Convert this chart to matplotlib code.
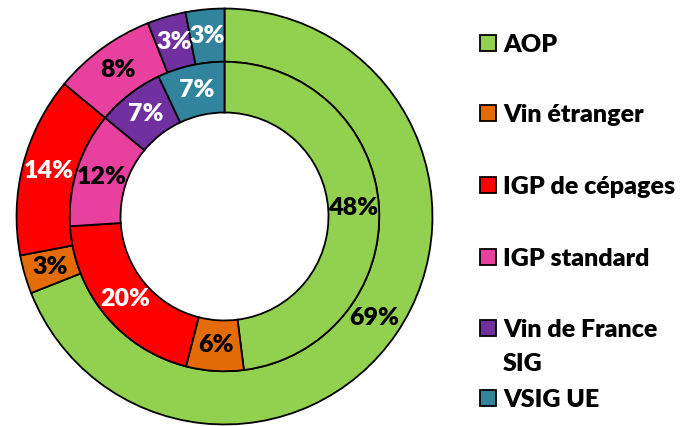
import matplotlib
matplotlib.use('Agg')
import matplotlib.pyplot as plt
from matplotlib.patches import Rectangle

# Catégories de vin (ordre horaire depuis midi)
categories = ['AOP', 'Vin étranger', 'IGP de cépages', 'IGP standard',
              'Vin de France\nSIG', 'VSIG UE']
outer_values = [69, 3, 14, 8, 3, 3]   # anneau extérieur
inner_values = [48, 6, 20, 12, 7, 7]  # anneau intérieur
colors = ['#92D050', '#E36C09', '#FF0000', '#E8409F', '#7030A0', '#31849B']
outer_label_colors = ['black', 'black', 'white', 'black', 'white', 'white']
inner_label_colors = ['black', 'black', 'white', 'black', 'white', 'white']

plt.rcParams['font.family'] = ['Lato', 'DejaVu Sans']
WEIGHT = 'heavy'

W, H = 695, 426
fig = plt.figure(figsize=(W / 100, H / 100), dpi=100)
R = 209
cx, cy = 224.5, 216.5
ax = fig.add_axes([(cx - R) / W, (H - cy - R) / H, 2 * R / W, 2 * R / H])

wedge_style = dict(edgecolor='black', linewidth=1.3)
_, _, outer_txt = ax.pie(outer_values, radius=1.0, colors=colors, startangle=90,
                         counterclock=False, autopct='%.0f%%', pctdistance=0.872,
                         wedgeprops=dict(width=0.256, **wedge_style),
                         textprops=dict(fontsize=18, fontweight=WEIGHT))
_, _, inner_txt = ax.pie(inner_values, radius=0.744, colors=colors, startangle=90,
                         counterclock=False, autopct='%.0f%%', pctdistance=0.835,
                         wedgeprops=dict(width=0.244, **wedge_style),
                         textprops=dict(fontsize=18, fontweight=WEIGHT))
for t, c in zip(outer_txt, outer_label_colors):
    t.set_color(c)
for t, c in zip(inner_txt, inner_label_colors):
    t.set_color(c)
ax.set_xlim(-1.005, 1.005)
ax.set_ylim(-1.005, 1.005)
ax.set_aspect('equal')

# Légende
slot_y = [43, 113, 185, 257, 328, 398]
for name, col, y in zip(categories, colors, slot_y):
    fig.patches.append(Rectangle((480 / W, (H - y - 8) / H), 16 / W, 16 / H,
                                 transform=fig.transFigure, facecolor=col,
                                 edgecolor='black', linewidth=1.3))
    lines = name.split('\n')
    for k, line in enumerate(lines):
        fig.text(503 / W, (H - y - 34 * k) / H, line, fontsize=18,
                 fontweight=WEIGHT, va='center_baseline', ha='left')

fig.savefig('out.png', dpi=100)
